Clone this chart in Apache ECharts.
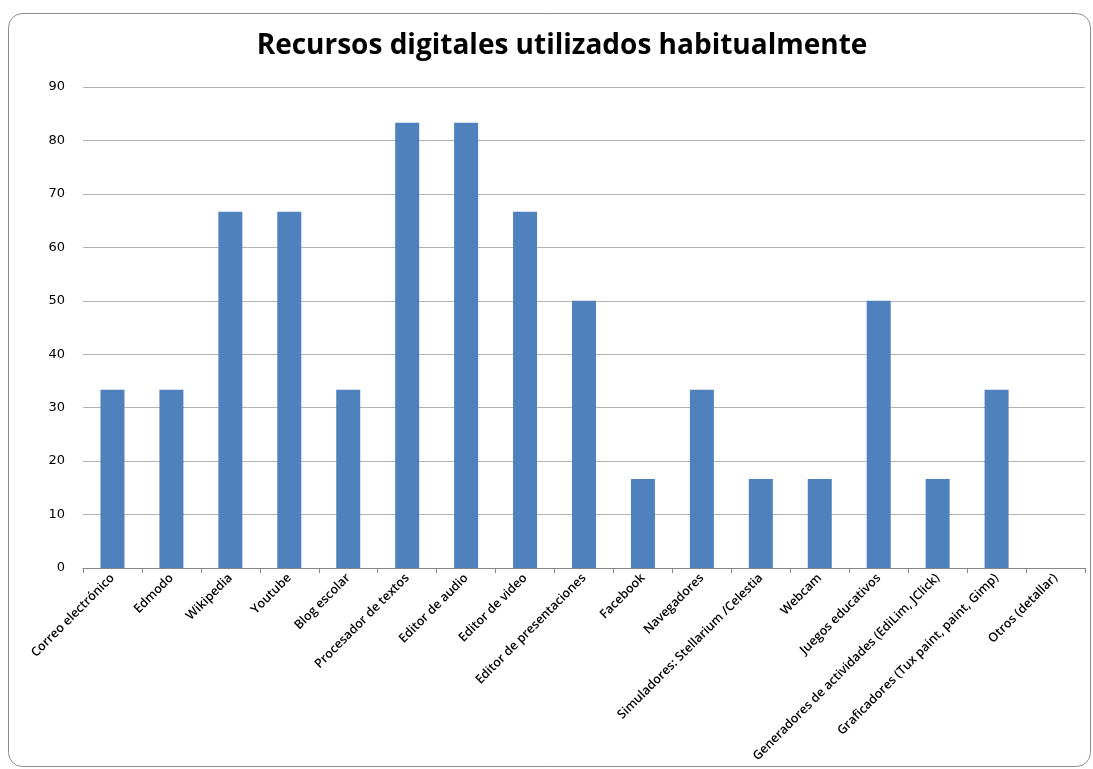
<!DOCTYPE html>
<html>
<head>
<meta charset="utf-8">
<script src="https://cdn.jsdelivr.net/npm/echarts@6/dist/echarts.min.js"></script>
<style>
  html, body { margin: 0; padding: 0; background: #fff; }
  #main { width: 1093px; height: 769px; }
</style>
</head>
<body>
<div id="main"></div>
<script>
// recursos (categorias del eje x)
var categories = [
  "Correo electrónico", "Edmodo", "Wikipedia", "Youtube", "Blog escolar",
  "Procesador de textos", "Editor de audio", "Editor de video",
  "Editor de presentaciones", "Facebook", "Navegadores",
  "Simuladores: Stellarium /Celestia", "Webcam", "Juegos educativos",
  "Generadores de actividades (EdiLim, JClick)",
  "Graficadores (Tux paint, paint, Gimp)", "Otros (detallar)"
];
// porcentaje de docentes
var valores = [33.33, 33.33, 66.67, 66.67, 33.33, 83.33, 83.33, 66.67, 50,
  16.67, 33.33, 16.67, 16.67, 50, 16.67, 33.33, 0];
var yTicks = { min: 0, max: 90, interval: 10 };

var chart = echarts.init(document.getElementById("main"));
chart.setOption({
  animation: false,
  title: {
    text: "Recursos digitales utilizados habitualmente",
    left: 557,
    top: 27,
    textAlign: "center",
    textStyle: { fontFamily: "Open Sans", fontWeight: "bold", fontSize: 28, color: "#000" }
  },
  graphic: [{
    type: "rect",
    shape: { x: 8.5, y: 13.5, width: 1082, height: 753, r: 14 },
    style: { fill: "none", stroke: "#8c8c8c", lineWidth: 1 },
    silent: true
  }],
  grid: { left: 83, right: 8, top: 87, bottom: 201 },
  xAxis: {
    type: "category",
    data: categories,
    axisLine: { lineStyle: { color: "#868686" } },
    axisTick: { show: true, alignWithLabel: false, length: 5, lineStyle: { color: "#868686" } },
    axisLabel: {
      interval: 0,
      rotate: 45,
      margin: 8,
      fontFamily: "Open Sans",
      fontSize: 12.5,
      fontWeight: 600,
      color: "#000"
    }
  },
  yAxis: {
    type: "value",
    min: yTicks.min,
    max: yTicks.max,
    interval: yTicks.interval,
    axisLine: { show: false },
    axisTick: { show: false },
    splitLine: { lineStyle: { color: "#b3b3b3" } },
    axisLabel: { fontFamily: "DejaVu Sans", fontSize: 13, color: "#000", margin: 18 }
  },
  series: [{
    type: "bar",
    data: valores,
    barWidth: 24,
    itemStyle: { color: "#4f81bd" }
  }]
});
</script>
</body>
</html>
